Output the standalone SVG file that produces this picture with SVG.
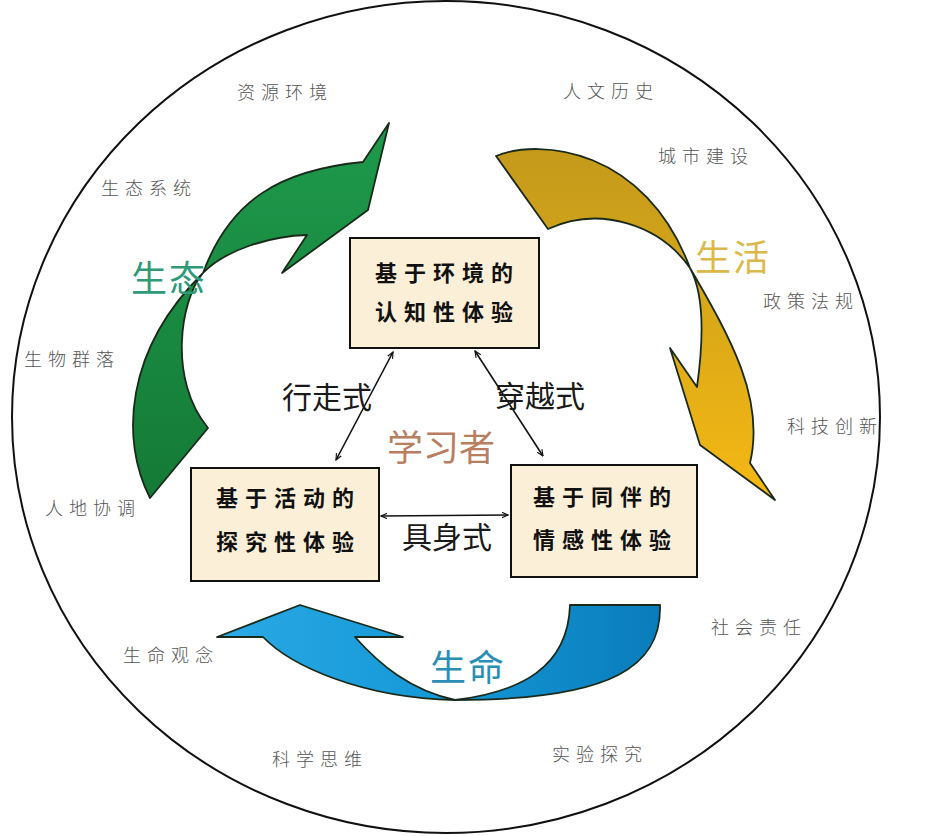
<svg xmlns="http://www.w3.org/2000/svg" width="928" height="836" viewBox="0 0 928 836">
<defs>
<style>
.outer{font-family:"Noto Sans CJK SC","Noto Sans",sans-serif;font-size:18px;font-weight:300;fill:#555555;letter-spacing:6px}
.box{fill:#fcefd8;stroke:#111;stroke-width:2}
.bt{font-family:"Noto Sans CJK SC","Noto Sans",sans-serif;font-size:22px;font-weight:700;fill:#111;letter-spacing:7px}
.lbl{font-family:"Noto Sans CJK SC","Noto Sans",sans-serif;font-size:30px;font-weight:400;fill:#1a1a1a}
.big{font-family:"Noto Sans CJK SC","Noto Sans",sans-serif;font-size:36px;font-weight:400;letter-spacing:2px}
.conn{stroke:#111;stroke-width:1.6;fill:none;marker-start:url(#ah);marker-end:url(#ah)}
.arr{stroke:#1a2a1a;stroke-width:1.8;stroke-linejoin:round}
</style>
<marker id="ah" viewBox="0 0 10 10" refX="9" refY="5" markerWidth="7" markerHeight="7" markerUnits="userSpaceOnUse" orient="auto-start-reverse">
<path d="M0,1 L9,5 L0,9" fill="none" stroke="#111" stroke-width="1.6"/>
</marker>
<linearGradient id="gGreen" x1="0" y1="0" x2="0" y2="1">
<stop offset="0" stop-color="#1e9a4c"/>
<stop offset="1" stop-color="#147a36"/>
</linearGradient>
<linearGradient id="gGold" x1="0" y1="0" x2="0" y2="1">
<stop offset="0" stop-color="#c49a1c"/>
<stop offset="0.45" stop-color="#d8a818"/>
<stop offset="1" stop-color="#f6b814"/>
</linearGradient>
<linearGradient id="gBlue" x1="0" y1="0" x2="1" y2="0">
<stop offset="0" stop-color="#2aaae6"/>
<stop offset="0.5" stop-color="#1598d6"/>
<stop offset="1" stop-color="#0a7cbc"/>
</linearGradient>
</defs>
<rect width="928" height="836" fill="#ffffff"/>
<ellipse id="frame" cx="446" cy="417" rx="434" ry="416" fill="none" stroke="#111" stroke-width="2"/>

<g id="arrow-shengtai">
<path class="arr" fill="url(#gGreen)" d="M389,123 L368,210 L282,273 L307,235 C270,236 225,250 203,273 C180,300 168,380 208,428 L150,498 C120,440 125,350 203,273 C230,200 280,170 363,162 Z"/>
</g>
<g id="arrow-shenghuo">
<path class="arr" fill="url(#gGold)" d="M496,156 C540,138 645,148 690,268 C732,340 765,400 750,463 L775,500 L700,445 L670,348 L697,387 C705,330 702,290 690,268 C660,225 600,205 548,229 Z"/>
</g>
<g id="arrow-shengming">
<path class="arr" stroke="#0a2a44" fill="url(#gBlue)" d="M570,605 L660,605 C662,665 615,700 455,700 C360,698 290,665 263,637 L217,637 L300,605 L403,637 L355,637 C380,665 410,690 455,700 C520,692 568,668 570,605 Z"/>
</g>

<g id="outer-labels">
<text class="outer" x="237" y="99">资源环境</text>
<text class="outer" x="563" y="98">人文历史</text>
<text class="outer" x="658" y="163">城市建设</text>
<text class="outer" x="101" y="195">生态系统</text>
<text class="outer" x="763" y="308">政策法规</text>
<text class="outer" x="24" y="366">生物群落</text>
<text class="outer" x="787" y="433">科技创新</text>
<text class="outer" x="45" y="515">人地协调</text>
<text class="outer" x="711" y="634">社会责任</text>
<text class="outer" x="123" y="662">生命观念</text>
<text class="outer" x="272" y="766">科学思维</text>
<text class="outer" x="552" y="761">实验探究</text>
</g>

<g id="category-labels">
<text class="big" x="131" y="292" fill="#2f9a78">生态</text>
<text class="big" x="695" y="271" fill="#dcb84a">生活</text>
<text class="big" x="430" y="681" fill="#2b8eb4">生命</text>
</g>

<g id="node-top">
<rect class="box" x="350" y="238" width="189" height="110"/>
<text class="bt" x="375" y="281">基于环境的</text>
<text class="bt" x="375" y="320">认知性体验</text>
</g>
<g id="node-left">
<rect class="box" x="191" y="468" width="188" height="113"/>
<text class="bt" x="216" y="506">基于活动的</text>
<text class="bt" x="216" y="550">探究性体验</text>
</g>
<g id="node-right">
<rect class="box" x="511" y="465" width="186" height="112"/>
<text class="bt" x="533" y="505">基于同伴的</text>
<text class="bt" x="533" y="548">情感性体验</text>
</g>

<g id="connectors">
<line class="conn" x1="393" y1="352" x2="336" y2="460"/>
<line class="conn" x1="475" y1="351" x2="543" y2="456"/>
<line class="conn" x1="381" y1="516" x2="508" y2="515"/>
</g>

<g id="connector-labels">
<text class="lbl" x="282" y="408">行走式</text>
<text class="lbl" x="495" y="407">穿越式</text>
<text class="lbl" x="402" y="548">具身式</text>
<text class="big" x="387" y="461" fill="#b97d5f" style="letter-spacing:0">学习者</text>
</g>
</svg>
